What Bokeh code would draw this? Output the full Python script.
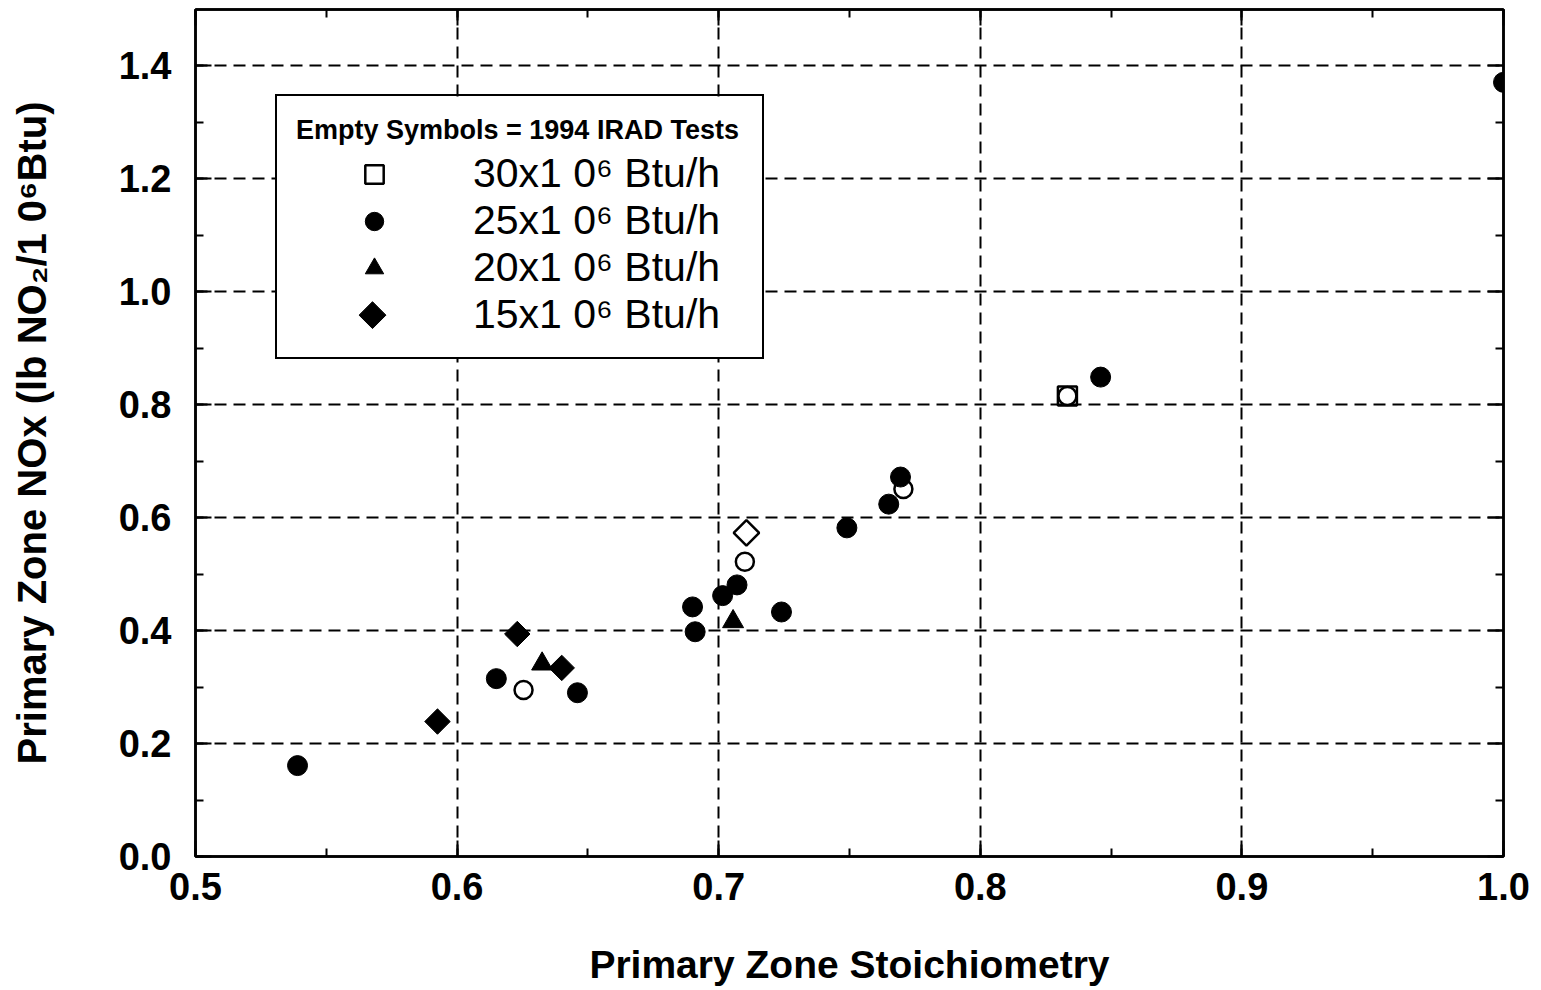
import numpy as np
from bokeh.plotting import figure
from bokeh.models import (Range1d, LinearAxis, SingleIntervalTicker, PrintfTickFormatter,
                          CustomJSTickFormatter, Legend, LegendItem)
from bokeh.embed import file_html
from bokeh.resources import INLINE

FONT = "Liberation Sans"

# ---- data ----
# 25x10^6 Btu/h (filled circles)
x_25 = [0.539, 0.615, 0.646, 0.690, 0.691, 0.7015, 0.707, 0.724, 0.749, 0.765, 0.7695, 0.846, 1.000]
y_25 = [0.161, 0.315, 0.290, 0.442, 0.398, 0.462, 0.481, 0.433, 0.582, 0.624, 0.672, 0.849, 1.371]
# 20x10^6 Btu/h (filled triangles)
x_20 = [0.6325, 0.7055]
y_20 = [0.341, 0.416]
# 15x10^6 Btu/h (filled diamonds)
x_15 = [0.5925, 0.623, 0.640]
y_15 = [0.239, 0.394, 0.334]
# 1994 IRAD tests (empty symbols)
x_open_circle = [0.6254, 0.710, 0.7706, 0.8333]
y_open_circle = [0.295, 0.522, 0.651, 0.8155]
x_open_diamond = [0.7106]
y_open_diamond = [0.573]
x_30 = [0.8333]
y_30 = [0.8155]

legend_title = "Empty Symbols = 1994 IRAD Tests"
legend_labels = ["30x1 0\u2076 Btu/h", "25x1 0\u2076 Btu/h", "20x1 0\u2076 Btu/h", "15x1 0\u2076 Btu/h"]
x_label = "Primary Zone Stoichiometry"
y_label = "Primary Zone NOx (lb NO\u2082/1 0\u2076Btu)"

W, H = 1533, 988
BL, BR, BT, BB = 195, 30, 9, 131
FW, FH = W - BL - BR, H - BT - BB

p = figure(width=W, height=H, output_backend="svg", toolbar_location=None,
           x_range=Range1d(0.5, 1.0), y_range=Range1d(0.0, 1.5),
           min_border_left=BL, min_border_right=BR, min_border_top=BT, min_border_bottom=BB)
p.extra_x_ranges = {"px": Range1d(0, FW)}
p.extra_y_ranges = {"px": Range1d(0, FH)}
p.background_fill_color = "white"
p.border_fill_color = "white"
p.outline_line_color = "black"
p.outline_line_width = 2.5

xt = SingleIntervalTicker(interval=0.1, num_minor_ticks=2)
yt = SingleIntervalTicker(interval=0.2, num_minor_ticks=2)

def style_axis(ax, labels=True):
    ax.axis_line_color = "black"
    ax.axis_line_width = 2.5
    ax.major_tick_in = 16
    ax.major_tick_out = 0
    ax.minor_tick_in = 8
    ax.minor_tick_out = 0
    ax.major_tick_line_width = 2
    ax.minor_tick_line_width = 2
    ax.major_tick_line_color = "black"
    ax.minor_tick_line_color = "black"
    if labels:
        ax.major_label_text_font = FONT
        ax.major_label_text_font_size = "38px"
        ax.major_label_text_font_style = "bold"
        ax.major_label_text_color = "black"
        ax.axis_label_text_font = FONT
        ax.axis_label_text_font_style = "bold"
        ax.axis_label_text_color = "black"
    else:
        ax.formatter = CustomJSTickFormatter(code="return ''")
        ax.major_label_text_font_size = "1px"
        ax.major_label_standoff = 0

xa = p.xaxis[0]
xa.ticker = xt
xa.formatter = PrintfTickFormatter(format="%.1f")
style_axis(xa)
xa.axis_label = x_label
xa.axis_label_text_font_size = "39px"
xa.major_label_standoff = 16
xa.axis_label_standoff = 40

ya = p.yaxis[0]
ya.ticker = yt
ya.formatter = PrintfTickFormatter(format="%.1f")
style_axis(ya)
ya.axis_label = y_label
ya.axis_label_text_font_size = "40px"
ya.major_label_standoff = 24
ya.axis_label_standoff = 62

top = LinearAxis(ticker=SingleIntervalTicker(interval=0.1, num_minor_ticks=2))
style_axis(top, labels=False)
p.add_layout(top, "above")
right = LinearAxis(ticker=SingleIntervalTicker(interval=0.2, num_minor_ticks=2))
style_axis(right, labels=False)
p.add_layout(right, "right")

p.xgrid.ticker = xt
p.ygrid.ticker = yt
for g in (p.xgrid[0], p.ygrid[0]):
    g.grid_line_color = "black"
    g.grid_line_width = 2
    g.grid_line_dash = "12 7"

# legend geometry (frame pixels, from bottom-left of the frame)
LEG_X, LEG_Y, PAD, GW, GH = 80, 497, 19, 156, 46
LEG_W, LEG_H = 487, 263

# white panel behind the legend (legend itself is transparent so that the
# diamond key drawn below can sit on top of the panel)
p.quad(left=[LEG_X + 1], right=[LEG_X + LEG_W - 1], bottom=[LEG_Y + 1], top=[LEG_Y + LEG_H - 1],
       x_range_name="px", y_range_name="px", fill_color="white", line_color=None)

r25 = p.scatter(x_25, y_25, marker="circle", size=20, fill_color="black", line_color="black")
r20 = p.scatter(x_20, y_20, marker="triangle", size=21, fill_color="black", line_color="black")
r15 = p.scatter(x_15, y_15, marker="square", angle=np.pi / 4, size=18, fill_color="black", line_color="black")
p.scatter(x_open_circle, y_open_circle, marker="circle", size=18, fill_color=None,
          line_color="black", line_width=2.5)
p.scatter(x_open_diamond, y_open_diamond, marker="square", angle=np.pi / 4, size=18,
          fill_color=None, line_color="black", line_width=2.5)
r30 = p.scatter(x_30, y_30, marker="square", size=19, fill_color=None, line_color="black", line_width=2.5)

# invisible stand-in for the diamond legend entry (legend glyphs ignore angle)
r15_key = p.scatter(x_15, y_15, marker="square", size=1, fill_alpha=0, line_alpha=0)

# diamond key for the legend, in frame pixel units
p.scatter([LEG_X + PAD + GW / 2], [LEG_Y + PAD + GH / 2 + 3], x_range_name="px", y_range_name="px",
          marker="square", angle=np.pi / 4, size=19, fill_color="black", line_color="black")

legend = Legend(items=[LegendItem(label=legend_labels[0], renderers=[r30]),
                       LegendItem(label=legend_labels[1], renderers=[r25]),
                       LegendItem(label=legend_labels[2], renderers=[r20]),
                       LegendItem(label=legend_labels[3], renderers=[r15_key])],
                location=(LEG_X, LEG_Y), title=legend_title)
legend.border_line_color = "black"
legend.border_line_alpha = 1
legend.border_line_width = 2
legend.background_fill_alpha = 0
legend.padding = PAD
legend.spacing = 0
legend.margin = 0
legend.glyph_width = GW
legend.glyph_height = GH
legend.label_height = GH
legend.label_standoff = 21
legend.label_width = 270
legend.label_text_font = FONT
legend.label_text_font_size = "41px"
legend.label_text_color = "black"
legend.title_text_font = FONT
legend.title_text_font_size = "27px"
legend.title_text_font_style = "bold"
legend.title_text_color = "black"
legend.title_standoff = 4
p.add_layout(legend)

open("out.html", "w").write(file_html(p, INLINE))
